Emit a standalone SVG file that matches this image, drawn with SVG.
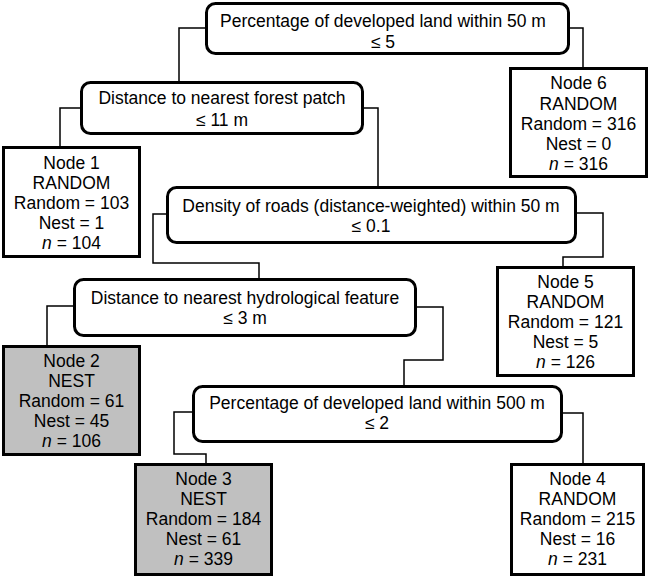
<svg xmlns="http://www.w3.org/2000/svg" width="650" height="577" viewBox="0 0 650 577">
<style>
text{font-family:"Liberation Sans",Arial,sans-serif;font-size:17.5px;fill:#000;text-anchor:middle}
.dec{fill:#fff;stroke:#000;stroke-width:3}
.leaf{fill:#fff;stroke:#000;stroke-width:3}
.nest{fill:#c0c0c0}
.con{fill:none;stroke:#000;stroke-width:1.5}
.i{font-style:italic}
</style>
<rect width="650" height="577" fill="#fff"/>
<g id="connectors">
<path class="con" d="M206,28 H179 V82"/>
<path class="con" d="M569,28 H583 V68"/>
<path class="con" d="M81,108 H60 V147"/>
<path class="con" d="M363,108 H378 V187"/>
<path class="con" d="M167,214 H153 V263 H259 V279"/>
<path class="con" d="M576,213 H603 V257 H563 V267"/>
<path class="con" d="M74,306 H47 V346"/>
<path class="con" d="M416,307 H443 V360 H404 V386"/>
<path class="con" d="M193,412 H174 V454 H206 V464"/>
<path class="con" d="M562,413 H583 V464"/>
</g>
<g id="split-dev50">
<rect class="dec" x="206.5" y="3.5" width="362" height="50" rx="9"/>
<text x="383" y="27">Percentage of developed land within 50 m</text>
<text x="383" y="48">≤ 5</text>
</g>
<g id="split-forest">
<rect class="dec" x="81.5" y="82.5" width="281" height="51" rx="9"/>
<text x="222" y="104">Distance to nearest forest patch</text>
<text x="222" y="126">≤ 11 m</text>
</g>
<g id="split-roads">
<rect class="dec" x="167.5" y="187.5" width="408" height="55" rx="9"/>
<text x="371" y="212">Density of roads (distance-weighted) within 50 m</text>
<text x="371" y="232">≤ 0.1</text>
</g>
<g id="split-hydro">
<rect class="dec" x="74.5" y="279.5" width="341" height="56" rx="9"/>
<text x="245" y="304">Distance to nearest hydrological feature</text>
<text x="245" y="324">≤ 3 m</text>
</g>
<g id="split-dev500">
<rect class="dec" x="193.5" y="386.5" width="368" height="55" rx="9"/>
<text x="377" y="409">Percentage of developed land within 500 m</text>
<text x="377" y="429">≤ 2</text>
</g>
<g id="node6">
<rect class="leaf" x="510.5" y="68.5" width="136" height="108"/>
<text x="578.5" y="89">Node 6</text>
<text x="578.5" y="110">RANDOM</text>
<text x="578.5" y="130">Random = 316</text>
<text x="578.5" y="150">Nest = 0</text>
<text x="578.5" y="170"><tspan class="i">n</tspan> = 316</text>
</g>
<g id="node1">
<rect class="leaf" x="3.5" y="147.5" width="136" height="109"/>
<text x="71.5" y="169">Node 1</text>
<text x="71.5" y="189">RANDOM</text>
<text x="71.5" y="209">Random = 103</text>
<text x="71.5" y="229">Nest = 1</text>
<text x="71.5" y="249"><tspan class="i">n</tspan> = 104</text>
</g>
<g id="node5">
<rect class="leaf" x="497.5" y="267.5" width="136" height="108"/>
<text x="565.5" y="288">Node 5</text>
<text x="565.5" y="308">RANDOM</text>
<text x="565.5" y="328">Random = 121</text>
<text x="565.5" y="348">Nest = 5</text>
<text x="565.5" y="368"><tspan class="i">n</tspan> = 126</text>
</g>
<g id="node2">
<rect class="leaf nest" x="3.5" y="346.5" width="136" height="108"/>
<text x="71.5" y="367">Node 2</text>
<text x="71.5" y="387">NEST</text>
<text x="71.5" y="407">Random = 61</text>
<text x="71.5" y="427">Nest = 45</text>
<text x="71.5" y="447"><tspan class="i">n</tspan> = 106</text>
</g>
<g id="node3">
<rect class="leaf nest" x="135.5" y="464.5" width="136" height="110"/>
<text x="203.5" y="485">Node 3</text>
<text x="203.5" y="505">NEST</text>
<text x="203.5" y="525">Random = 184</text>
<text x="203.5" y="545">Nest = 61</text>
<text x="203.5" y="565"><tspan class="i">n</tspan> = 339</text>
</g>
<g id="node4">
<rect class="leaf" x="511.5" y="464.5" width="132" height="110"/>
<text x="577.5" y="485">Node 4</text>
<text x="577.5" y="505">RANDOM</text>
<text x="577.5" y="525">Random = 215</text>
<text x="577.5" y="545">Nest = 16</text>
<text x="577.5" y="565"><tspan class="i">n</tspan> = 231</text>
</g>
</svg>
